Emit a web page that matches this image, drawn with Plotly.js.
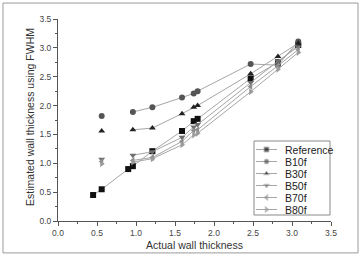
<!DOCTYPE html>
<html>
<head>
<meta charset="utf-8">
<script src="https://cdn.plot.ly/plotly-3.0.1.min.js"></script>
<style>
  html, body { margin: 0; padding: 0; background: #fff; }
  #chart { width: 362px; height: 257px; }
</style>
</head>
<body>
<div id="chart"></div>
<script>
// Actual wall thickness (shared x positions)
const actual = [0.45, 0.56, 0.90, 0.96, 1.21, 1.59, 1.74, 1.79, 2.47, 2.82, 3.08];

// Estimated wall thickness using FWHM for each series
const seriesNames = ["Reference", "B10f", "B30f", "B50f", "B70f", "B80f"];
const reference = [0.45, 0.55, 0.90, 0.95, 1.21, 1.56, 1.73, 1.77, 2.47, 2.75, 3.05];
const b10f = [null, 1.82, null, 1.89, 1.97, 2.14, 2.21, 2.25, 2.72, 2.70, 3.11];
const b30f = [null, 1.56, null, 1.58, 1.61, 1.86, 1.97, 2.00, 2.55, 2.85, 3.08];
const b50f = [null, 1.07, null, 1.14, 1.20, 1.45, 1.63, 1.67, 2.40, 2.77, 3.02];
const b70f = [null, 1.03, null, 1.05, 1.10, 1.38, 1.57, 1.58, 2.33, 2.69, 2.97];
const b80f = [null, 0.99, null, 1.02, 1.08, 1.32, 1.49, 1.52, 2.24, 2.63, 2.92];

// Axis tick labels
const tickValues = [0, 0.5, 1, 1.5, 2, 2.5, 3, 3.5];
const tickLabels = ["0.0", "0.5", "1.0", "1.5", "2.0", "2.5", "3.0", "3.5"];
const minorTickValues = [0.25, 0.75, 1.25, 1.75, 2.25, 2.75, 3.25];

const xTitle = "Actual wall thickness";
const yTitle = "Estimated wall thickness using FWHM";

const seriesValues = [reference, b10f, b30f, b50f, b70f, b80f];
const markerSymbols = ["square", "circle", "triangle-up", "triangle-down", "triangle-left", "triangle-right"];
const markerColors = ["#111111", "#555555", "#222222", "#6e6e6e", "#8c8c8c", "#9a9a9a"];
const lineColor = "#a6a6a6";
const fontFamily = "Liberation Sans, Arial, sans-serif";

const traces = seriesNames.map((name, i) => ({
  x: actual,
  y: seriesValues[i],
  name: name,
  type: "scatter",
  mode: "lines+markers",
  connectgaps: false,
  showlegend: false,
  line: { color: lineColor, width: 1 },
  marker: { symbol: markerSymbols[i], size: 6, color: markerColors[i] }
}));

// Compact legend drawn on a pixel-scaled overlay axis (x2/y2), one row per series
const legendLeft = 254, legendRight = 330, legendTop = 141, legendBottom = 215;
const rowStart = 149.5, rowStep = 12;
const sampleX0 = 256, sampleX1 = 277, textX = 283;

const legendShapes = [{
  type: "rect", xref: "x2", yref: "y2",
  x0: legendLeft, x1: legendRight, y0: legendTop, y1: legendBottom,
  line: { color: "#8a8a8a", width: 1 }, fillcolor: "#fff", layer: "below"
}];
const annotations = [{
  // y-axis title
  xref: "paper", yref: "paper", x: -0.1026, y: 0.515,
  xanchor: "center", yanchor: "middle", textangle: -90,
  text: yTitle, showarrow: false,
  font: { family: fontFamily, size: 10.5, color: "#333" }
}];
seriesNames.forEach((name, i) => {
  const yRow = rowStart + i * rowStep;
  traces.push({
    x: [sampleX0, (sampleX0 + sampleX1) / 2, sampleX1],
    y: [yRow, yRow, yRow],
    xaxis: "x2", yaxis: "y2",
    type: "scatter",
    mode: "lines+markers",
    showlegend: false,
    hoverinfo: "skip",
    line: { color: lineColor, width: 1 },
    marker: {
      symbol: markerSymbols[i], size: [0, 5, 0],
      color: markerColors[i]
    }
  });
  annotations.push({
    xref: "x2", yref: "y2", x: textX, y: yRow,
    xanchor: "left", yanchor: "middle",
    text: name, showarrow: false,
    font: { family: fontFamily, size: 10.5, color: "#222" }
  });
});

const axisFont = { family: fontFamily, size: 8.5, color: "#444" };

const commonAxis = {
  range: [0, 3.5],
  tickvals: tickValues,
  ticktext: tickLabels,
  ticks: "outside",
  ticklen: 4,
  tickcolor: "#555",
  tickfont: axisFont,
  showgrid: false,
  zeroline: false,
  showline: true,
  linecolor: "#555",
  linewidth: 1,
  automargin: false,
  minor: { tickvals: minorTickValues, ticks: "outside", ticklen: 2, tickcolor: "#555" }
};

const layout = {
  width: 362,
  height: 257,
  margin: { l: 58, r: 31, t: 19, b: 36, pad: 0 },
  paper_bgcolor: "#fff",
  plot_bgcolor: "rgba(0,0,0,0)",
  showlegend: false,
  font: { family: fontFamily, color: "#333" },
  xaxis: Object.assign({}, commonAxis, {
    title: { text: xTitle, font: { size: 10.5, color: "#333" }, standoff: 4 }
  }),
  yaxis: Object.assign({}, commonAxis),
  xaxis2: { overlaying: "x", range: [58, 331], visible: false, fixedrange: true },
  yaxis2: { overlaying: "y", range: [221, 19], visible: false, fixedrange: true },
  annotations: annotations,
  shapes: [{
    type: "rect",
    xref: "paper", yref: "paper",
    x0: -0.2015, x1: 1.099, y0: -0.158, y1: 1.079,
    line: { color: "#9a9a9a", width: 1 },
    layer: "below"
  }].concat(legendShapes)
};

Plotly.newPlot("chart", traces, layout, { displayModeBar: false, staticPlot: true });
</script>
</body>
</html>
